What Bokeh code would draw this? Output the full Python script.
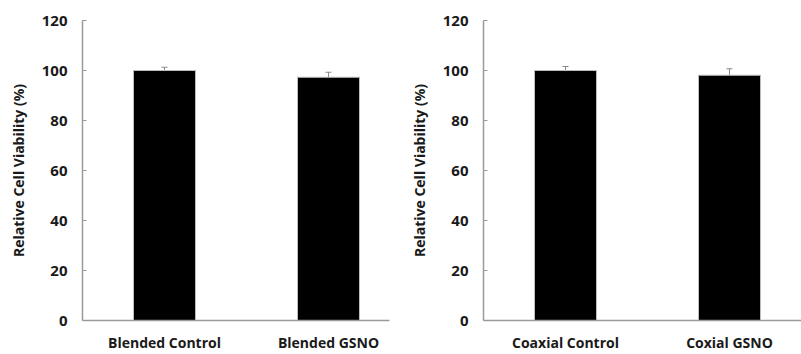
from bokeh.plotting import figure
from bokeh.layouts import row
from bokeh.models import ColumnDataSource, Range1d, FixedTicker, Whisker, TeeHead
from bokeh.embed import file_html
from bokeh.resources import INLINE

# Data
left_categories = ["Blended Control", "Blended GSNO"]
left_values = [100.0, 97.3]
left_errors = [1.3, 2.0]

right_categories = ["Coaxial Control", "Coxial GSNO"]
right_values = [100.0, 98.1]
right_errors = [1.6, 2.6]

y_ticks = [0, 20, 40, 60, 80, 100, 120]
y_title = "Relative Cell Viability (%)"

FONT = "Open Sans"
TEXT_COLOR = "#1a1a1a"
AXIS_COLOR = "#9a9a9a"


def make_panel(categories, values, errors, width, border_left, border_right, x_end):
    xs = [i + 0.5 for i in range(len(categories))]
    src = ColumnDataSource(dict(
        x=xs, top=values,
        upper=[v + e for v, e in zip(values, errors)],
        lower=[v - e for v, e in zip(values, errors)],
    ))
    p = figure(width=width, height=354, output_backend="svg", toolbar_location=None,
               x_range=Range1d(0, x_end), y_range=Range1d(0, 120),
               min_border_left=border_left, min_border_right=border_right,
               min_border_top=20, min_border_bottom=34)
    p.outline_line_color = None
    p.xgrid.grid_line_color = None
    p.ygrid.grid_line_color = None
    p.background_fill_color = "white"
    p.border_fill_color = "white"

    p.vbar(x="x", top="top", bottom=0, width=0.378, source=src,
           fill_color="black", line_color="#bdbdbd", line_width=1)

    w = Whisker(base="x", upper="upper", lower="lower", source=src,
                line_color="#8a8a8a", line_width=1,
                upper_head=TeeHead(size=6, line_color="#8a8a8a", line_width=1),
                lower_head=TeeHead(size=6, line_color="#8a8a8a", line_width=1))
    p.add_layout(w)

    # x axis
    xa = p.xaxis[0]
    xa.ticker = FixedTicker(ticks=xs)
    xa.major_label_overrides = {x: c for x, c in zip(xs, categories)}
    xa.major_tick_in = 0
    xa.major_tick_out = 0
    xa.minor_tick_line_color = None
    xa.axis_line_color = AXIS_COLOR
    xa.axis_line_width = 1.5
    xa.major_label_text_font = FONT
    xa.major_label_text_font_style = "bold"
    xa.major_label_text_font_size = "14px"
    xa.major_label_text_color = TEXT_COLOR
    xa.major_label_standoff = 12

    # y axis
    ya = p.yaxis[0]
    ya.ticker = FixedTicker(ticks=y_ticks)
    ya.major_tick_in = 4
    ya.major_tick_out = 0
    ya.major_tick_line_color = AXIS_COLOR
    ya.minor_tick_line_color = None
    ya.axis_line_color = AXIS_COLOR
    ya.axis_line_width = 1.5
    ya.major_label_text_font = FONT
    ya.major_label_text_font_style = "bold"
    ya.major_label_text_font_size = "15px"
    ya.major_label_text_color = TEXT_COLOR
    ya.major_label_standoff = 15
    ya.axis_label = y_title
    ya.axis_label_text_font = FONT
    ya.axis_label_text_font_style = "bold"
    ya.axis_label_text_font_size = "14px"
    ya.axis_label_text_color = TEXT_COLOR
    ya.axis_label_standoff = 11
    return p


p1 = make_panel(left_categories, left_values, left_errors, 400, 82, 11, 307 / 164)
p2 = make_panel(right_categories, right_values, right_errors, 401, 83, 0, 318 / 164)

layout = row(p1, p2)
open("out.html", "w").write(file_html(layout, INLINE))
